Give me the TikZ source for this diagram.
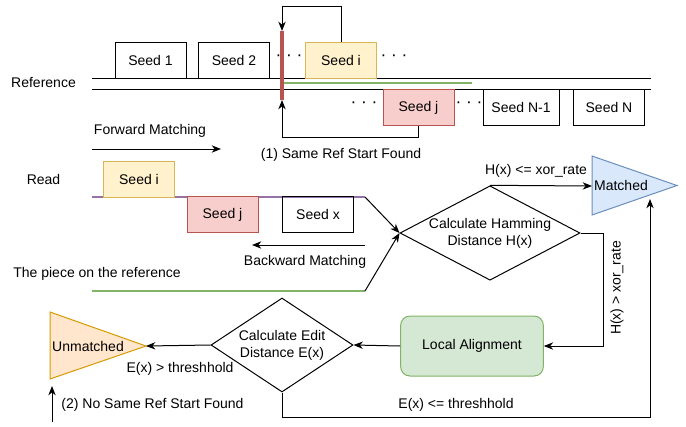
\documentclass[tikz,border=0pt]{standalone}
\usepackage{fontspec}
\setmainfont{Liberation Sans}
\usepackage{xcolor}
\usetikzlibrary{arrows.meta}
\usetikzlibrary{shapes}

\definecolor{yelFill}{HTML}{FFF2CC}
\definecolor{yelLine}{HTML}{D6B656}
\definecolor{redFill}{HTML}{F8CECC}
\definecolor{redLine}{HTML}{B85450}
\definecolor{grnFill}{HTML}{D5E8D4}
\definecolor{grnLine}{HTML}{82B366}
\definecolor{bluFill}{HTML}{DAE8FC}
\definecolor{bluLine}{HTML}{6C8EBF}
\definecolor{orgFill}{HTML}{FFE6CC}
\definecolor{orgLine}{HTML}{D79B00}
\definecolor{purLine}{HTML}{9673A6}

\tikzset{
  every node/.style={font=\fontsize{10.5}{12.8}\selectfont, inner sep=0.75pt},
  seed/.style={draw, rectangle, minimum width=53.25pt, minimum height=27pt, inner sep=0pt},
  seedI/.style={seed, draw=yelLine, fill=yelFill},
  seedJ/.style={seed, draw=redLine, fill=redFill},
  decision/.style={draw, diamond, inner sep=0pt, align=center},
  dots/.style={font=\fontsize{13}{14}\selectfont},
  arr/.style={-{Stealth[length=7pt,width=5.5pt,inset=2.2pt]}},
}

\begin{document}
\begin{tikzpicture}[x=0.75pt,y=0.75pt,yscale=-1,xscale=1,line width=0.75pt]
\useasboundingbox (0,0) rectangle (686,426);

%Straight Lines: reference
\coordinate (refA) at (92,78);  \coordinate (refB) at (651,78);
\coordinate (refC) at (92,89);  \coordinate (refD) at (651,89);
\draw (refA) -- (refB);
\draw (refC) -- (refD);

% Seeds on the reference
\node[seed]  (ref1) at (150.5,60) {Seed 1};
\node[seed]  (ref2) at (234,60) {Seed 2};
\node[seedI] (refi) at (341,60) {Seed i};
\node[seedJ] (refj) at (418.5,107.5) {Seed j};
\node[seed, minimum width=57pt] (refn1) at (521,107.5) {Seed N-1};
\node[seed]  (refn) at (609,107.5) {Seed N};
\node[dots] (dotA) at (289,58) {· · ·};
\node[dots] (dotB) at (394,58) {· · ·};
\node[dots] (dotC) at (364,105) {· · ·};
\node[dots] (dotD) at (469,105) {· · ·};

%Straight Lines: green piece and red start bar
\coordinate (pcA) at (282,83); \coordinate (pcB) at (472,83);
\draw [grnLine, line width=1.8pt] (pcA) -- (pcB);
\coordinate (barT) at (282,31); \coordinate (barB) at (282,100);
\draw [redLine, line width=2.4pt] (barT) -- (barB);

% Loops to the same ref start
\draw [arr] (refi.north) -- ++(0,-35) -| (barT);
\draw [arr] (refj.south) -- ++(0,11.5) -| (barB);

% Forward matching
\coordinate (fwdA) at (92,149); \coordinate (fwdB) at (221,149);
\draw [arr] (fwdA) -- (fwdB);

% Read
\coordinate (rdA) at (92,197); \coordinate (rdB) at (365,197);
\draw [purLine, line width=1.2pt] (rdA) -- (rdB);
\node[seedI] (readi) at (139,179.5) {Seed i};
\node[seedJ] (readj) at (222.5,214.5) {Seed j};
\node[seed]  (readx) at (318,214.5) {Seed x};

% Backward matching
\coordinate (bwdA) at (365,245); \coordinate (bwdB) at (252,245);
\draw [arr] (bwdA) -- (bwdB);

% Piece on the reference
\coordinate (prA) at (92,291); \coordinate (prB) at (365,291);
\draw [grnLine, line width=1.8pt] (prA) -- (prB);

% Decisions
\node[decision, shape aspect=1.9, minimum width=135pt, minimum height=70.5pt] (ham) at (490,233) {Calculate Hamming\\Distance H(x)};
\node[decision, shape aspect=1.5, minimum width=106.5pt, minimum height=70.5pt] (edit) at (282,345) {Calculate Edit\\Distance E(x)};
\node[draw=grnLine, fill=grnFill, rounded corners=7pt, minimum width=107pt, minimum height=45pt] (local) at (472,346) {Local Alignment};

\draw [arr] (rdB) -- (ham.west);
\draw [arr] (prB) -- (ham.west);

%Shape: Triangles
\draw [draw=bluLine, fill=bluFill] (592,156) -- (677,185.5) -- (592,215) -- cycle;
\node (matched) at (621,185) {Matched};
\coordinate (matL) at (592,186); \coordinate (matB) at (650,199);
\draw [draw=orgLine, fill=orgFill] (50,312) -- (146,346) -- (50,379) -- cycle;
\node (unmatched) at (88,346) {Unmatched};
\coordinate (unTip) at (146,346);

% Connectors
\draw [arr] (ham.north) -- (matL);
\draw [arr] (ham.east) -- ++(23,0) |- (local.east);
\draw [arr] (local.west) -- (edit.east);
\draw [arr] (edit.west) -- (unTip);
\draw [arr] (edit.south) -- ++(0,25) -| (matB);
\coordinate (nsA) at (52,422); \coordinate (nsB) at (52,386);
\draw [arr] (nsA) -- (nsB);

% Text Node
\node (txtRef) at (43.5,82) {Reference};
\node (txtFwd) at (150,131) {Forward Matching};
\node (txtSame) at (341,155) {(1) Same Ref Start Found};
\node (txtRead) at (43.5,179) {Read};
\node (txtBwd) at (305,262) {Backward Matching};
\node (txtPiece) at (97,274) {The piece on the reference};
\node (txtHle) at (536,171) {H(x) <= xor\_rate};
\node[rotate=90] (txtHgt) at (617,288) {H(x) > xor\_rate};
\node (txtEgt) at (180,369) {E(x) > threshhold};
\node (txtEle) at (456,405) {E(x) <= threshhold};
\node (txtNo) at (152.5,405) {(2) No Same Ref Start Found};

\end{tikzpicture}
\end{document}
